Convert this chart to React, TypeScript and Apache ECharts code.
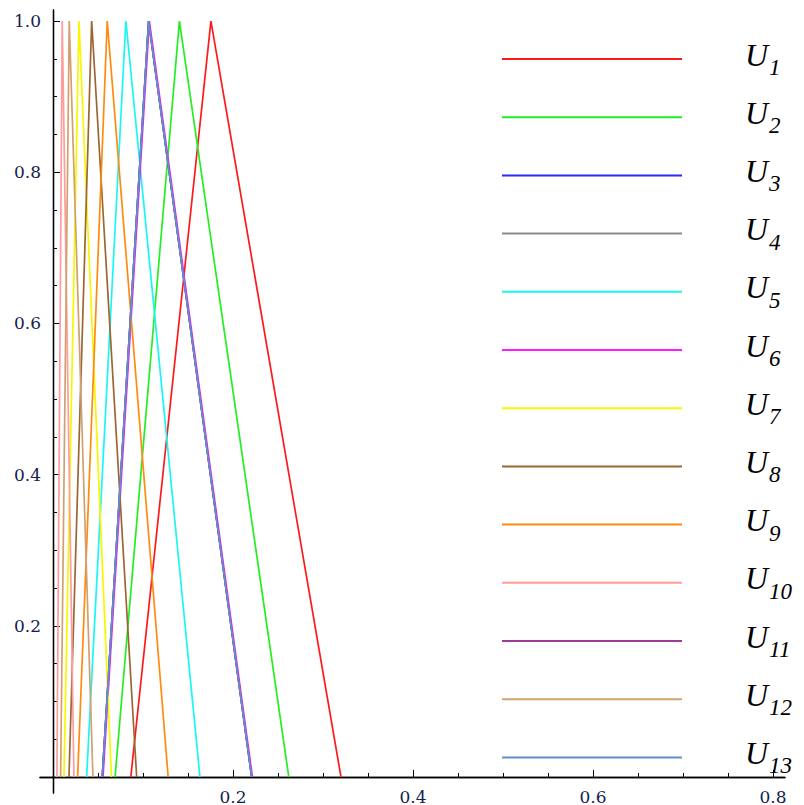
import React, { useEffect, useRef } from "react";
import * as echarts from "echarts";

// Triangular membership functions U1..U13: support start, peak, support end.
const seriesNames = ["U1", "U2", "U3", "U4", "U5", "U6", "U7", "U8", "U9", "U10", "U11", "U12", "U13"];
const seriesColors = [
  "#ff1a1a", // U1 red
  "#22ee22", // U2 green
  "#2a2aff", // U3 blue
  "#8c8c8c", // U4 gray
  "#1af5f5", // U5 cyan
  "#ff1aff", // U6 magenta
  "#f7f700", // U7 yellow
  "#9c6633", // U8 brown
  "#ff8a10", // U9 orange
  "#ff9c9c", // U10 pink
  "#9a3a9a", // U11 purple
  "#d1a070", // U12 tan
  "#6090cc", // U13 steel blue
];
const leftFoot = [0.0865, 0.069, 0.0548, 0.0548, 0.0374, 0.0556, 0.0122, 0.0178, 0.0274, 0.0044, 0.0548, 0.0085, 0.0548];
const peakAt = [0.1755, 0.1405, 0.1063, 0.1063, 0.081, 0.1071, 0.0289, 0.043, 0.0603, 0.0103, 0.1063, 0.0181, 0.1063];
const rightFoot = [0.32, 0.262, 0.2208, 0.2208, 0.1633, 0.2216, 0.065, 0.093, 0.128, 0.0233, 0.2208, 0.0444, 0.2208];
const membership = [0, 1, 0];

// Axis ticks and labels
const xMajorTicks = [0.2, 0.4, 0.6, 0.8];
const xMinorTicks = [0.05, 0.1, 0.15, 0.25, 0.3, 0.35, 0.45, 0.5, 0.55, 0.65, 0.7, 0.75];
const yMajorTicks = [0.2, 0.4, 0.6, 0.8, 1.0];
const yMinorTicks = [0.05, 0.1, 0.15, 0.25, 0.3, 0.35, 0.45, 0.5, 0.55, 0.65, 0.7, 0.75, 0.85, 0.9, 0.95];

// Axis extents (axes overshoot the origin slightly, crossing at 0,0)
const X_MIN = -0.0144;
const X_MAX = 0.8133;
const Y_MIN = -0.0212;
const Y_MAX = 1.0146;

const AXIS_COLOR = "#000";
const LABEL_STYLE = {
  fontFamily: "DejaVu Serif",
  fontSize: 17,
  color: "#14224d",
};

function buildOption(): echarts.EChartsCoreOption {
  const lineStyle = { color: AXIS_COLOR, width: 1.3 };
  const tickLine = { color: AXIS_COLOR, width: 1 };

  const xAxes = [
    {
      type: "value",
      position: "bottom",
      min: X_MIN,
      max: X_MAX,
      splitLine: { show: false },
      axisLine: { show: true, onZero: true, onZeroAxisIndex: 0, lineStyle },
      axisTick: { show: true, inside: true, length: 7, customValues: xMajorTicks, lineStyle: tickLine },
      axisLabel: {
        show: true,
        customValues: xMajorTicks,
        margin: -5,
        formatter: (v: number) => v.toFixed(1),
        ...LABEL_STYLE,
      },
    },
    {
      type: "value",
      position: "bottom",
      min: X_MIN,
      max: X_MAX,
      splitLine: { show: false },
      axisLine: { show: true, onZero: true, onZeroAxisIndex: 1, lineStyle },
      axisTick: { show: true, inside: true, length: 4, customValues: xMinorTicks, lineStyle: tickLine },
      axisLabel: { show: false },
    },
  ];

  const yAxes = [
    {
      type: "value",
      position: "left",
      min: Y_MIN,
      max: Y_MAX,
      splitLine: { show: false },
      axisLine: { show: true, onZero: true, onZeroAxisIndex: 0, lineStyle },
      axisTick: { show: true, inside: true, length: 7, customValues: yMajorTicks, lineStyle: tickLine },
      axisLabel: {
        show: true,
        customValues: yMajorTicks,
        margin: -1,
        formatter: (v: number) => v.toFixed(1),
        ...LABEL_STYLE,
      },
    },
    {
      type: "value",
      position: "left",
      min: Y_MIN,
      max: Y_MAX,
      splitLine: { show: false },
      axisLine: { show: true, onZero: true, onZeroAxisIndex: 1, lineStyle },
      axisTick: { show: true, inside: true, length: 4, customValues: yMinorTicks, lineStyle: tickLine },
      axisLabel: { show: false },
    },
  ];

  const series = seriesNames.map((name, i) => ({
    name,
    type: "line",
    xAxisIndex: 0,
    yAxisIndex: 0,
    data: [
      [leftFoot[i], membership[0]],
      [peakAt[i], membership[1]],
      [rightFoot[i], membership[2]],
    ],
    showSymbol: false,
    symbol: "none",
    silent: true,
    color: seriesColors[i],
    itemStyle: { color: seriesColors[i] },
    lineStyle: { width: 1.7, color: seriesColors[i] },
  }));

  return {
    animation: false,
    backgroundColor: "#ffffff",
    color: seriesColors,
    grid: {
      left: 40,
      right: 19,
      top: 10,
      bottom: 12,
      containLabel: false,
      outerBoundsMode: "none",
    },
    xAxis: xAxes,
    yAxis: yAxes,
    legend: {
      orient: "vertical",
      left: 502,
      top: 38.5,
      padding: 0,
      itemWidth: 180,
      itemHeight: 2,
      itemGap: 17.2,
      icon: "rect",
      selectedMode: false,
      data: seriesNames,
      formatter: (name: string) => `{u|U}{s|${name.slice(1)}}`,
      textStyle: {
        color: "#000",
        rich: {
          u: {
            fontFamily: "Liberation Serif",
            fontStyle: "italic",
            fontSize: 32,
            lineHeight: 32,
            color: "#000",
            padding: [0, 0, 9, 58],
          },
          s: {
            fontFamily: "Liberation Serif",
            fontStyle: "italic",
            fontSize: 23,
            lineHeight: 23,
            color: "#000",
            padding: [17, 0, 0, 1],
          },
        },
      },
    },
    series,
  };
}

export default function App() {
  const ref = useRef<HTMLDivElement | null>(null);

  useEffect(() => {
    if (!ref.current) return;
    const chart = echarts.init(ref.current, undefined, { renderer: "svg" });
    chart.setOption(buildOption());
    return () => {
      chart.dispose();
    };
  }, []);

  return (
    <div
      ref={ref}
      style={{
        position: "fixed",
        left: 0,
        top: 0,
        width: 804,
        height: 805,
        background: "#ffffff",
      }}
    />
  );
}
